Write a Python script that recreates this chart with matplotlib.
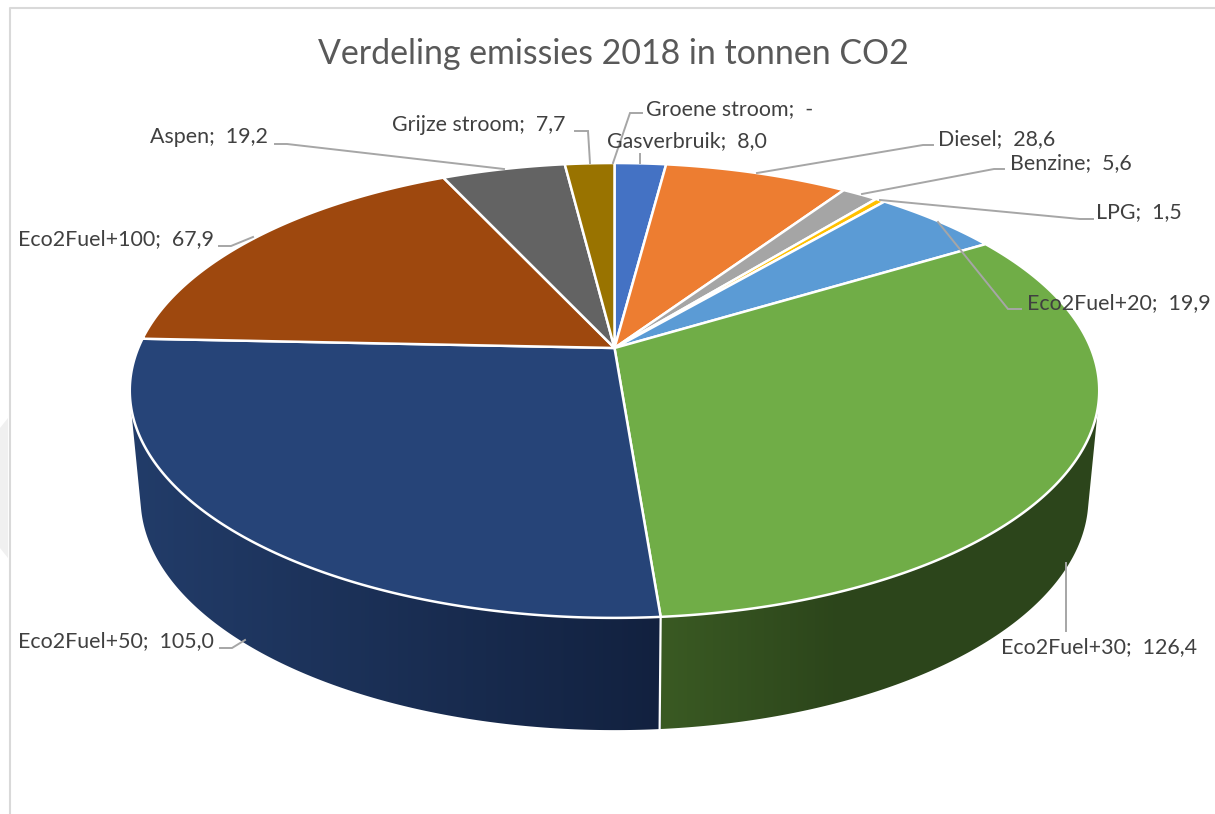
import numpy as np
import matplotlib
matplotlib.use('Agg')
import matplotlib.pyplot as plt
from matplotlib.colors import to_rgb
from matplotlib.patches import Polygon

# data as printed on the chart, clockwise from 12 o'clock
names = ['Groene stroom', 'Gasverbruik', 'Diesel', 'Benzine', 'LPG', 'Eco2Fuel+20',
         'Eco2Fuel+30', 'Eco2Fuel+50', 'Eco2Fuel+100', 'Aspen', 'Grijze stroom']
values = [0.0, 8.0, 28.6, 5.6, 1.5, 19.9, 126.4, 105.0, 67.9, 19.2, 7.7]
colors = ['#a9d18e', '#4472c4', '#ed7d31', '#a5a5a5', '#ffc000', '#5b9bd5',
          '#70ad47', '#264478', '#9e480e', '#636363', '#997300']
title = 'Verdeling emissies 2018 in tonnen CO2'

# label anchor (left, middle) and leader line for each slice
label_pos = [(646, 109), (607, 141), (938, 139), (1010, 163), (1096, 212), (1027, 303),
             (1001, 647), (18, 641), (18, 239), (150, 137), (392, 125)]
leaders = [[(642, 113), (630, 113), (613, 163)],
           [(640, 154), (640, 163)],
           [(933, 145), (923, 145), (757, 173)],
           [(1004, 169), (994, 169), (862, 194)],
           [(1093, 219), (1080, 219), (880, 200)],
           [(1021, 309), (1008, 309), (938, 222)],
           [(1066, 631), (1066, 563)],
           [(220, 648), (232, 648), (245, 640)],
           [(219, 246), (231, 246), (253, 237)],
           [(275, 144), (287, 144), (504, 169)],
           [(575, 131), (588, 131), (590, 163)]]

CX = 614.5
K = 0.1867  # perspective strength
TOP = dict(a=476.2, b=219.5, y0=348.0)
BOTTOM = dict(a=465.6, b=224.0, y0=454.7)


def project(theta, disc):
    # theta is clockwise from the back of the pie
    x, y = np.sin(theta), np.cos(theta)
    d = 1 + K * y
    return CX + disc['a'] * x / d, disc['y0'] - disc['b'] * y / d


def ramp(c0, c1, t):
    return np.array(to_rgb(c0)) * (1 - t) + np.array(to_rgb(c1)) * t


def convex_hull(points):
    pts = sorted(set(points))
    def half(seq):
        out = []
        for p in seq:
            while len(out) > 1 and ((out[-1][0] - out[-2][0]) * (p[1] - out[-2][1])
                                    - (out[-1][1] - out[-2][1]) * (p[0] - out[-2][0])) <= 0:
                out.pop()
            out.append(p)
        return out[:-1]
    return half(pts) + half(pts[::-1])


plt.rcParams['font.family'] = ['Lato', 'DejaVu Sans']
fig = plt.figure(figsize=(12.15, 8.14), dpi=100)
ax = fig.add_axes([0, 0, 1, 1])
ax.set_xlim(0, 1215)
ax.set_ylim(814, 0)
ax.axis('off')

# frame and the faint mark on the left
ax.plot([9.5, 9.5, 1214], [814, 8, 8], color='#d9d9d9', lw=1.5, zorder=1)
ax.fill([0, 8, 8, 0], [428, 418, 558, 548], color='#f0f0f0', lw=0, zorder=0)

cum = np.cumsum([0] + values)
edges = 2 * np.pi * cum / cum[-1]
seam = edges[names.index('Eco2Fuel+50')]
sx0, sy0 = project(seam, TOP)
sx1, sy1 = project(seam, BOTTOM)

# side wall: a horizontal colour ramp cut to the outline of the solid
ring = np.linspace(0, 2 * np.pi, 720, endpoint=False)
outline = list(zip(*project(ring, TOP))) + list(zip(*project(ring, BOTTOM)))
hull = Polygon(convex_hull([(float(x), float(y)) for x, y in outline]),
               closed=True, transform=ax.transData, fc='none', ec='none')
ax.add_patch(hull)
xs = np.arange(120, 1110)
shade = np.array([ramp('#223c69', '#12213f', np.clip((x - 135) / (sx0 - 135), 0, 1)) if x < sx0
                  else ramp('#3a5a23', '#2c451b', np.clip((x - sx0) / 180, 0, 1)) for x in xs])
img = ax.imshow(shade[np.newaxis, :, :], extent=(120, 1110, 740, 330), aspect='auto',
                interpolation='nearest', zorder=2)
img.set_clip_path(hull)
ax.set_xlim(0, 1215)
ax.set_ylim(814, 0)
ax.plot([sx0, sx1], [sy0, sy1], color='white', lw=1.6, zorder=3)

# top face
cx0, cy0 = CX, TOP['y0']
for color, t0, t1 in zip(colors, edges[:-1], edges[1:]):
    if t1 <= t0:
        continue
    ts = np.linspace(t0, t1, max(3, int((t1 - t0) * 120)))
    px, py = project(ts, TOP)
    ax.fill(np.r_[cx0, px], np.r_[cy0, py], facecolor=color, edgecolor='white',
            lw=1.8, joinstyle='round', zorder=4)

# leader lines and labels
for pts in leaders:
    lx, ly = zip(*pts)
    ax.plot(lx, ly, color='#a6a6a6', lw=1.4, zorder=5, solid_joinstyle='miter')
for name, val, (x, y) in zip(names, values, label_pos):
    txt = '-' if val == 0 else f'{val:.1f}'.replace('.', ',')
    ax.text(x, y, f'{name};  {txt}', ha='left', va='center', fontsize=15.4,
            color='#404040', zorder=6)

ax.text(613, 54, title, ha='center', va='center', fontsize=24.4, color='#595959', zorder=6)

fig.savefig('out.png', dpi=100)
